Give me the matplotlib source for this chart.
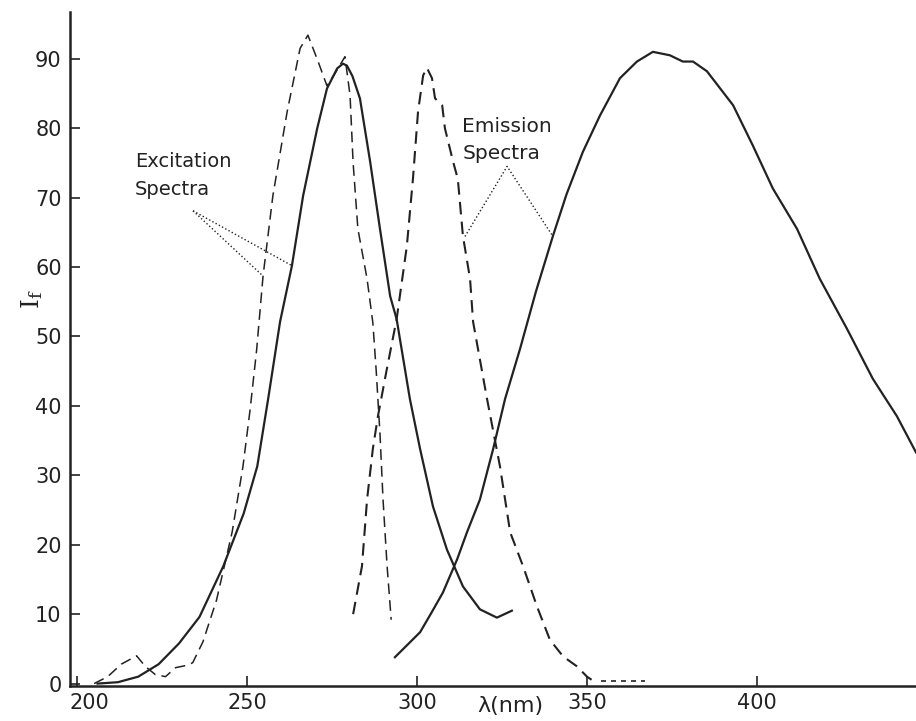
import numpy as np
import matplotlib.pyplot as plt
import matplotlib.transforms as mtransforms

plt.rcParams['mathtext.fontset'] = 'dejavuserif'

# excitation spectra
exc_solid_x = [206, 212, 218, 224, 230, 236, 243, 249, 253, 256.2, 259.7, 263.2, 266.5, 270.6,
               273.5, 276.5, 278.2, 279.4, 281, 283.2, 286.2, 289.1, 292.1, 294, 297.9, 300.9,
               304.7, 308.8, 313.5, 318.5, 323.5, 327.9]
exc_solid_y = [0, 0.2, 1, 2.8, 5.8, 9.6, 16.9, 24.5, 31.3, 41, 52.1, 60.2, 70.3, 79.9,
               85.7, 88.6, 89.3, 89, 87.5, 84.3, 75.2, 65.5, 55.8, 52.5, 41, 33.8,
               25.5, 19.3, 14, 10.7, 9.5, 10.5]

exc_dash_x = [205, 209, 213, 217.5, 220, 223, 226, 229, 232, 234, 237, 241, 245.6, 248.8,
              250.9, 252.8, 254.7, 257.6, 261.8, 265.6, 267.9, 270.9, 273.5, 276, 278.8,
              280.3, 281.2, 282.6, 285.3, 287, 288, 289.1, 290, 291.2, 292.4]
exc_dash_y = [0, 1, 2.8, 4, 2.5, 1.3, 1, 2.3, 2.6, 3, 6, 12, 21.8, 31.3,
              39.5, 48, 58.7, 70.3, 82.4, 91.5, 93.4, 89.6, 86.1, 88, 90.3,
              84.7, 75, 65.5, 58.3, 52, 45, 36, 26.5, 16.9, 9.2]

# emission spectra
em_dash_x = [281.2, 283.8, 285.3, 287, 288.5, 291, 294, 297, 298.8, 300.3, 301.8, 302.9,
             304.4, 305.3, 307.4, 308.2, 310.6, 312, 313.5, 315.6, 316.5, 320.6, 324.4,
             327.4, 331.2, 335.3, 339.1, 343, 347, 350, 353]
em_dash_y = [10, 16.9, 26.5, 33.8, 38.5, 45, 52.5, 63, 72.7, 82.4, 87.6, 88.7,
             87.2, 84.3, 83.3, 80, 75.2, 72.7, 64.5, 58.3, 52.1, 41, 31.3,
             21.8, 16.9, 11.1, 6.3, 3.9, 2.5, 1, 0]
em_tail_x = [354, 367]
em_tail_y = [0.4, 0.4]

em_solid_x = [293.5, 297, 300.9, 304, 307.6, 311.8, 314.7, 318.5, 322.4, 325.9, 330.3, 335,
              340, 344, 348.8, 353.8, 359.7, 364.7, 369.4, 374.4, 378.2, 381.2, 385.3, 393,
              398.8, 404.7, 411.8, 418.5, 426.5, 434.1, 441.2, 446.8]
em_solid_y = [3.8, 5.5, 7.4, 10, 13.1, 17.9, 21.8, 26.5, 33.8, 41, 48.2, 56.5,
              64.5, 70.5, 76.6, 81.8, 87.2, 89.6, 91, 90.5, 89.6, 89.6, 88.2, 83.3,
              77.5, 71.3, 65.5, 58.3, 51.1, 43.9, 38.5, 33.3]

xticks = [200, 250, 300, 350, 400]
yticks = [0, 10, 20, 30, 40, 50, 60, 70, 80, 90]

fig = plt.figure(figsize=(9.16, 7.21), dpi=100)
ax = fig.add_axes([0.0764, 0.049, 0.9236, 0.934])

ink = '#222222'
ax.plot(exc_solid_x, exc_solid_y, color=ink, lw=1.6)
ax.plot(exc_dash_x, exc_dash_y, color=ink, lw=1.1, dashes=(7, 4))
ax.plot(em_dash_x, em_dash_y, color=ink, lw=1.5, dashes=(6, 3.5))
ax.plot(em_tail_x, em_tail_y, color=ink, lw=1.2, dashes=(3, 3))
ax.plot(em_solid_x, em_solid_y, color=ink, lw=1.6)

# pointer lines for the labels
ax.plot([234.1, 254.7], [68.1, 58.7], color=ink, lw=1.0, ls=':')
ax.plot([234.1, 263.2], [68.1, 60.2], color=ink, lw=1.0, ls=':')
ax.plot([314.1, 326.5, 340], [64.4, 74.5, 64.4], color=ink, lw=1.0, ls=':')

ax.text(217, 73.2, 'Excitation\nSpectra', fontsize=14, color=ink, va='center', ha='left',
        linespacing=1.6)
ax.text(313.3, 78.3, 'Emission\nSpectra', fontsize=14.5, color=ink, va='center', ha='left',
        linespacing=1.55)

ax.set_xlim(197.9, 446.8)
ax.set_ylim(-0.3, 96.7)
ax.set_xticks(xticks)
ax.set_yticks(yticks)
ax.tick_params(direction='in', length=7, width=1.2, labelsize=15, colors=ink)
ax.tick_params(axis='x', pad=5)
ax.tick_params(axis='y', pad=6)
for s in ['top', 'right']:
    ax.spines[s].set_visible(False)
for s in ['left', 'bottom']:
    ax.spines[s].set_linewidth(1.8)
    ax.spines[s].set_color(ink)

# the first x label sits a little to the right of its tick, clear of the y axis
first = ax.get_xticklabels()[0]
first.set_transform(first.get_transform() + mtransforms.ScaledTranslation(0.12, 0, fig.dpi_scale_trans))

# y label sits between the 50 and 60 tick labels, as in the original
ax.set_ylabel(r'$\mathrm{I_f}$', fontsize=18, color=ink)
ax.yaxis.set_label_coords(-0.03, 0.574)
ax.text(327.5, -1.8, 'λ(nm)', fontsize=16, color=ink, ha='center', va='top')

fig.savefig('out.png', dpi=100)
